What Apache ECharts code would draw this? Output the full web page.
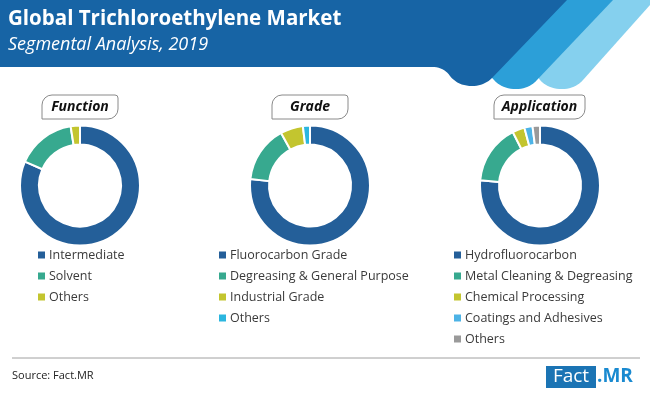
<!DOCTYPE html>
<html>
<head>
<meta charset="utf-8">
<script src="https://cdn.jsdelivr.net/npm/echarts@6/dist/echarts.min.js"></script>
<style>
html,body{margin:0;padding:0;background:#fff;}
#chart{width:650px;height:396px;}
</style>
</head>
<body>
<div id="chart"></div>
<script>
// ---- data ----
var functionNames = ['Intermediate', 'Solvent', 'Others'];
var functionValues = [81.5, 16.0, 2.5];
var gradeNames = ['Fluorocarbon Grade', 'Degreasing & General Purpose', 'Industrial Grade', 'Others'];
var gradeValues = [76.7, 15.3, 6.1, 1.9];
var applicationNames = ['Hydrofluorocarbon', 'Metal Cleaning & Degreasing', 'Chemical Processing', 'Coatings and Adhesives', 'Others'];
var applicationValues = [76.4, 16.1, 3.3, 2.2, 2.0];
var segmentTitles = ['Function', 'Grade', 'Application'];
var titleText = 'Global Trichloroethylene Market';
var subtitleText = 'Segmental Analysis, 2019';
var sourceText = 'Source: Fact.MR';

// ---- styles ----
var functionColors = ['#245f99', '#37a98f', '#c3c52f'];
var gradeColors = ['#245f99', '#37a98f', '#c3c52f', '#2bb6df'];
var applicationColors = ['#245f99', '#37a98f', '#c3c52f', '#4db3e6', '#9a9a9a'];
var centersX = [80, 310, 540];
var centerY = 185.5;
var legendLeft = [36, 217, 452];
var boxes = [{x: 42, w: 76}, {x: 272, w: 76}, {x: 494, w: 91}];

var groups = [
  {key: 'F', names: functionNames, values: functionValues, colors: functionColors},
  {key: 'G', names: gradeNames, values: gradeValues, colors: gradeColors},
  {key: 'A', names: applicationNames, values: applicationValues, colors: applicationColors}
];

var series = [], legends = [];
groups.forEach(function (g, i) {
  var data = g.names.map(function (n, j) {
    return {name: g.key + '|' + n, value: g.values[j], itemStyle: {color: g.colors[j]}};
  });
  series.push({
    type: 'pie',
    center: [centersX[i], centerY],
    radius: [41, 60],
    startAngle: 90,
    clockwise: true,
    label: {show: false},
    labelLine: {show: false},
    emphasis: {disabled: true},
    itemStyle: {borderColor: '#fff', borderWidth: 2},
    data: data
  });
  legends.push({
    orient: 'vertical',
    left: legendLeft[i],
    top: 248,
    padding: 0,
    icon: 'rect',
    itemWidth: 9,
    itemHeight: 9,
    itemGap: 7,
    selectedMode: false,
    textStyle: {fontFamily: 'Open Sans', fontSize: 12.5, color: '#3a3a3a', lineHeight: 14, padding: [0, 0, 0, -2]},
    formatter: function (name) { return name.split('|')[1]; },
    data: data.map(function (d) { return d.name; })
  });
});

// helper: build polygon points from a list of segments (points and quadratic curves)
function shapePoints(spec) {
  var pts = [], cur = null;
  spec.forEach(function (s) {
    if (s.length === 2) { pts.push(s); cur = s; }
    else {
      var cx = s[0], cy = s[1], ex = s[2], ey = s[3];
      for (var t = 1; t <= 10; t++) {
        var u = t / 10;
        pts.push([(1-u)*(1-u)*cur[0] + 2*(1-u)*u*cx + u*u*ex, (1-u)*(1-u)*cur[1] + 2*(1-u)*u*cy + u*u*ey]);
      }
      cur = [ex, ey];
    }
  });
  return pts;
}
var lightShape = shapePoints([[560,0],[650,0],[650,5],[583,80],[575,89,562,89],[548,89,540,80],[525,60]]);
var midShape = shapePoints([[480,0],[613,0],[537,80],[529,89,516,89],[502,89,494,80],[480,65]]);
var darkShape = shapePoints([[0,0],[567,0],[492,78],[484,86,472,86],[458,86,450,76],[444,67,432,67],[0,67]]);

var graphics = [
  {type: 'polygon', shape: {points: lightShape}, style: {fill: '#85d0ee'}},
  {type: 'polygon', shape: {points: midShape}, style: {fill: '#2c9fd8'}},
  {type: 'polygon', shape: {points: darkShape}, style: {fill: '#1764a5'}},
  {type: 'text', left: 8, top: 9, style: {text: titleText, fill: '#fff', font: 'bold 20.5px "Open Sans"'}},
  {type: 'text', left: 8, top: 36, style: {text: subtitleText, fill: '#fff', font: 'italic 18px "Open Sans"'}},
  {type: 'line', shape: {x1: 12, y1: 358, x2: 640, y2: 358}, style: {stroke: '#a0a0a0', lineWidth: 1}},
  {type: 'text', left: 12, top: 370, style: {text: sourceText, fill: '#222', font: '11px "Open Sans"'}},
  {type: 'rect', shape: {x: 546, y: 366, width: 50, height: 22}, style: {fill: '#1b74b4'}},
  {type: 'text', x: 571, y: 377, style: {text: 'Fact', fill: '#fff', font: '19px "Open Sans"', align: 'center', verticalAlign: 'middle'}},
  {type: 'text', x: 597, y: 377, style: {text: '.MR', fill: '#1a8ad0', font: 'bold 19px "Open Sans"', align: 'left', verticalAlign: 'middle'}}
];
segmentTitles.forEach(function (t, i) {
  var b = boxes[i];
  graphics.push({type: 'rect', shape: {x: b.x, y: 95, width: b.w, height: 24, r: [10, 3, 10, 0]}, style: {fill: '#fff', stroke: '#8a8a8a', lineWidth: 1}});
  graphics.push({type: 'text', x: b.x + b.w / 2, y: 107, style: {text: t, fill: '#111', font: 'italic bold 14px "Open Sans"', align: 'center', verticalAlign: 'middle'}});
});

var chart = echarts.init(document.getElementById('chart'), null, {renderer: 'canvas'});
chart.setOption({
  animation: false,
  backgroundColor: '#fff',
  legend: legends,
  series: series,
  graphic: graphics
});
</script>
</body>
</html>
